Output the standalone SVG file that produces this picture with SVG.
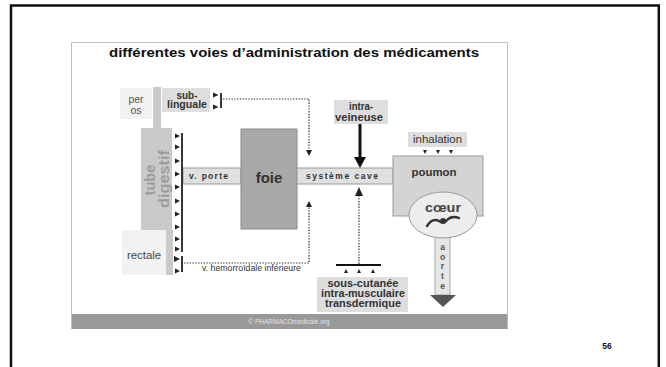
<svg xmlns="http://www.w3.org/2000/svg" width="666" height="367" viewBox="0 0 666 367">
  <style>
    .sans { font-family: "Liberation Sans", Arial, sans-serif; }
    .pipe { fill: #e0e0e0; stroke: #9a9a9a; stroke-width: 1; }
    .label { fill: #dedede; }
    .pale { fill: #f2f2f2; }
    .gut { fill: #cacaca; }
    .head { fill: #222; }
    .dots { fill: none; stroke: #333; stroke-width: 1.2; stroke-dasharray: 1.4 1.4; }
    .b { font-weight: bold; }
    .pipeTxt { font-size: 8.5px; font-weight: bold; fill: #333; }
    .route { font-size: 10px; font-weight: bold; fill: #333; }
  </style>

  <!-- slide frame -->
  <path d="M11,367 V5.5 H658.8 V367" fill="none" stroke="#111" stroke-width="2.5"/>
  <text class="sans b" x="607" y="349" font-size="8.5" text-anchor="middle" fill="#111">56</text>

  <!-- picture frame -->
  <rect x="71.5" y="42.5" width="436" height="286" fill="#fff" stroke="#bdbdbd" stroke-width="1"/>
  <rect x="72" y="314" width="435" height="15" fill="#999"/>
  <text class="sans" x="289" y="324" font-size="6.5" text-anchor="middle" fill="#e4e4e4">© PHARMACOmedicale.org</text>

  <text class="sans b" x="294" y="57" font-size="12.5" text-anchor="middle" fill="#111" textLength="370" lengthAdjust="spacingAndGlyphs">différentes voies d’administration des médicaments</text>

  <!-- digestive tract -->
  <g id="per-os">
    <rect class="pale" x="120" y="88" width="32" height="31"/>
    <text class="sans" x="136" y="103" font-size="10.5" text-anchor="middle" fill="#555">per</text>
    <text class="sans" x="136" y="114" font-size="10.5" text-anchor="middle" fill="#555">os</text>
  </g>

  <g id="tube-digestif">
    <rect class="gut" x="153" y="87" width="8" height="41"/>
    <rect class="gut" x="141" y="128" width="31" height="102"/>
    <rect class="gut" x="166" y="230" width="7" height="45"/>
    <text class="sans b" transform="translate(155,180) rotate(-90)" font-size="14.5" text-anchor="middle" fill="#9c9c9c" textLength="31" lengthAdjust="spacingAndGlyphs">tube</text>
    <text class="sans b" transform="translate(169,179) rotate(-90)" font-size="14.5" text-anchor="middle" fill="#9c9c9c" textLength="58" lengthAdjust="spacingAndGlyphs">digestif</text>
  </g>

  <g id="rectale">
    <rect class="pale" x="122" y="230" width="44" height="45"/>
    <text class="sans" x="144" y="259" font-size="10.5" text-anchor="middle" fill="#444" textLength="34" lengthAdjust="spacingAndGlyphs">rectale</text>
  </g>

  <g id="sub-linguale">
    <rect class="label" x="162" y="88" width="48" height="24"/>
    <text class="sans route" x="187" y="98.5" font-size="10" text-anchor="middle">sub-</text>
    <text class="sans route" x="187" y="108" text-anchor="middle" textLength="40" lengthAdjust="spacingAndGlyphs">linguale</text>
  </g>

  <!-- circulation -->
  <g id="v-porte">
    <rect class="pipe" x="183" y="168" width="58" height="16"/>
    <text class="sans pipeTxt" x="189" y="179" textLength="39" lengthAdjust="spacing">v. porte</text>
  </g>

  <g id="foie">
    <rect x="241" y="129" width="56" height="100" fill="#a8a8a8" stroke="#8a8a8a" stroke-width="1"/>
    <text class="sans b" x="269" y="183" font-size="15" text-anchor="middle" fill="#333">foie</text>
  </g>

  <g id="systeme-cave">
    <rect class="pipe" x="297" y="168" width="96" height="16"/>
    <text class="sans pipeTxt" x="306" y="179" textLength="72" lengthAdjust="spacing">système cave</text>
  </g>

  <g id="poumon">
    <rect x="393" y="156" width="90" height="60" fill="#d4d4d4" stroke="#9a9a9a" stroke-width="1"/>
    <text class="sans b" x="434" y="176" font-size="11.5" text-anchor="middle" fill="#333" textLength="45" lengthAdjust="spacingAndGlyphs">poumon</text>
  </g>

  <g id="aorte">
    <rect x="435" y="234" width="15" height="61" fill="#e6e6e6" stroke="#aaa" stroke-width="1"/>
    <g class="sans b" font-size="8.5" text-anchor="middle" fill="#555">
      <text x="442.5" y="250">a</text>
      <text x="442.5" y="259.7">o</text>
      <text x="442.5" y="269.4">r</text>
      <text x="442.5" y="279.1">t</text>
      <text x="442.5" y="288.8">e</text>
    </g>
    <polygon points="430,295 456,295 443,307" fill="#555"/>
  </g>

  <g id="coeur">
    <ellipse cx="443" cy="215" rx="34" ry="23" fill="#ededed" stroke="#9a9a9a" stroke-width="1"/>
    <text class="sans b" x="443" y="212" font-size="13" text-anchor="middle" fill="#444" textLength="36" lengthAdjust="spacingAndGlyphs">cœur</text>
    <path d="M427,226 C431,220 435,219 439,221 C442,223 445,223 447,220 C450,217 454,216 459,218" fill="none" stroke="#333" stroke-width="2.4" stroke-linecap="round"/>
    <circle cx="443" cy="221" r="3" fill="#333"/>
  </g>

  <g id="inhalation">
    <rect class="label" x="408" y="132" width="59" height="15"/>
    <text class="sans" x="437.5" y="142.5" font-size="10.5" text-anchor="middle" fill="#333" textLength="49" lengthAdjust="spacingAndGlyphs">inhalation</text>
    <polygon class="head" points="423,150 427,150 425,154"/>
    <polygon class="head" points="436,150 440,150 438,154"/>
    <polygon class="head" points="449,150 453,150 451,154"/>
  </g>

  <g id="intra-veineuse">
    <rect class="label" x="334" y="100" width="54" height="24"/>
    <text class="sans route" x="361" y="110" text-anchor="middle" textLength="24" lengthAdjust="spacingAndGlyphs">intra-</text>
    <text class="sans route" x="359" y="120.5" text-anchor="middle" textLength="48" lengthAdjust="spacingAndGlyphs">veineuse</text>
  </g>

  <g id="sous-cutanee">
    <rect class="label" x="317" y="277" width="91" height="35"/>
    <text class="sans route" x="363" y="287" text-anchor="middle" textLength="71" lengthAdjust="spacingAndGlyphs">sous-cutanée</text>
    <text class="sans route" x="363" y="297" text-anchor="middle" textLength="84" lengthAdjust="spacingAndGlyphs">intra-musculaire</text>
    <text class="sans route" x="363" y="307" text-anchor="middle" textLength="76" lengthAdjust="spacingAndGlyphs">transdermique</text>
  </g>

  <text class="sans" x="202" y="271" font-size="8.5" fill="#333" textLength="99" lengthAdjust="spacingAndGlyphs">v. hemorroïdale inférieure</text>

  <!-- connectors -->
  <g id="connectors">
    <!-- absorption along the digestive tract -->
    <line x1="182" y1="133" x2="182" y2="252" stroke="#222" stroke-width="1.8"/>
    <line x1="182" y1="256" x2="182" y2="272" stroke="#222" stroke-width="1.8"/>
    <g class="head">
      <polygon points="175,133.5 180,136 175,138.5"/>
      <polygon points="175,144.5 180,147 175,149.5"/>
      <polygon points="175,158.5 180,161 175,163.5"/>
      <polygon points="175,171.5 180,174 175,176.5"/>
      <polygon points="175,184.5 180,187 175,189.5"/>
      <polygon points="175,198.5 180,201 175,203.5"/>
      <polygon points="175,211.5 180,214 175,216.5"/>
      <polygon points="175,224.5 180,227 175,229.5"/>
      <polygon points="175,236.5 180,239 175,241.5"/>
      <polygon points="175,246.5 180,249 175,251.5"/>
      <polygon points="174,256 180,259 174,262"/>
      <polygon points="175,268.5 180,271 175,273.5"/>
    </g>

    <!-- sub-lingual route -->
    <line x1="221" y1="93" x2="221" y2="108" stroke="#222" stroke-width="1.8"/>
    <polygon class="head" points="213,92.5 218.5,95 213,97.5"/>
    <polygon class="head" points="213,104.5 218.5,107 213,109.5"/>
    <path class="dots" d="M223,99 H309 V150"/>
    <polygon class="head" points="306,150 312,150 309,156"/>

    <!-- inferior haemorrhoidal vein -->
    <path class="dots" d="M184,263 H309 V207"/>
    <polygon class="head" points="306,207 312,207 309,201"/>

    <!-- intravenous -->
    <line x1="360" y1="124" x2="360" y2="158" stroke="#111" stroke-width="3"/>
    <polygon points="354,157 366,157 360,168" fill="#111"/>

    <!-- subcutaneous / intramuscular / transdermal -->
    <line x1="336" y1="265" x2="381" y2="265" stroke="#111" stroke-width="2"/>
    <path class="dots" d="M359,264 V195"/>
    <polygon class="head" points="355,196 363,196 359,187"/>
    <polygon class="head" points="344,273 348,273 346,269"/>
    <polygon class="head" points="357,273 361,273 359,269"/>
    <polygon class="head" points="371,273 375,273 373,269"/>
  </g>
</svg>
